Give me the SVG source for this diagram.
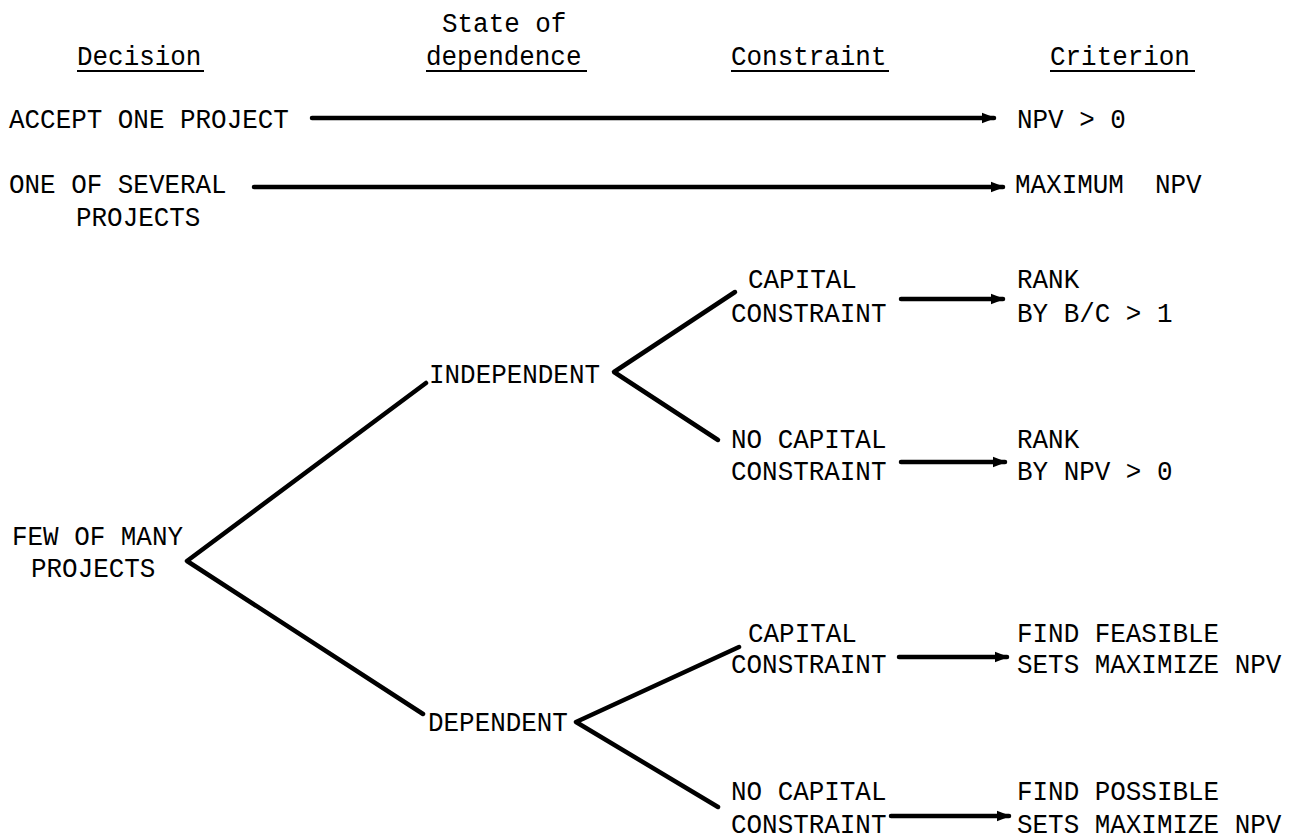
<svg xmlns="http://www.w3.org/2000/svg" width="1301" height="839" viewBox="0 0 1301 839">
<defs>
<marker id="ah" viewBox="0 0 10 10" refX="9" refY="5" markerWidth="3" markerHeight="3" orient="auto" markerUnits="strokeWidth">
<path d="M0,1 L10,5 L0,9 Z" fill="#000"/>
</marker>
<style>
text{font-family:"Liberation Mono","DejaVu Sans Mono",monospace;font-size:27px;fill:#000;transform-box:fill-box;transform-origin:0 0;transform:scaleX(0.96)}
.c{stroke:#000;stroke-width:4.5;fill:none;stroke-linecap:round;stroke-linejoin:round}
.ul{stroke:#000;stroke-width:2}
</style>
</defs>
<rect width="1301" height="839" fill="#fff"/>
<g id="headers">
<text x="442" y="32">State of</text>
<text x="77" y="65">Decision</text>
<line class="ul" x1="77" y1="71" x2="204" y2="71"/>
<text x="426" y="65">dependence</text>
<line class="ul" x1="426" y1="71" x2="587" y2="71"/>
<text x="731" y="65">Constraint</text>
<line class="ul" x1="731" y1="71" x2="889" y2="71"/>
<text x="1050" y="65">Criterion</text>
<line class="ul" x1="1050" y1="71" x2="1195" y2="71"/>
</g>
<g id="n-accept"><text x="9" y="128">ACCEPT ONE PROJECT</text></g>
<g id="n-npv0"><text x="1017" y="128">NPV &gt; 0</text></g>
<g id="n-oneof"><text x="9" y="193">ONE OF SEVERAL</text><text x="76" y="226">PROJECTS</text></g>
<g id="n-maxnpv"><text x="1015" y="193">MAXIMUM&#160; NPV</text></g>
<g id="n-few"><text x="12" y="545">FEW OF MANY</text><text x="31" y="577">PROJECTS</text></g>
<g id="n-indep"><text x="429" y="383">INDEPENDENT</text></g>
<g id="n-dep"><text x="428" y="731">DEPENDENT</text></g>
<g id="n-cap1"><text x="748" y="288">CAPITAL</text><text x="731" y="322">CONSTRAINT</text></g>
<g id="n-nocap1"><text x="731" y="448">NO CAPITAL</text><text x="731" y="480">CONSTRAINT</text></g>
<g id="n-cap2"><text x="748" y="642">CAPITAL</text><text x="731" y="673">CONSTRAINT</text></g>
<g id="n-nocap2"><text x="731" y="800">NO CAPITAL</text><text x="731" y="833">CONSTRAINT</text></g>
<g id="n-rank1"><text x="1017" y="288">RANK</text><text x="1017" y="322">BY B/C &gt; 1</text></g>
<g id="n-rank2"><text x="1017" y="448">RANK</text><text x="1017" y="480">BY NPV &gt; 0</text></g>
<g id="n-feas"><text x="1017" y="642">FIND FEASIBLE</text><text x="1017" y="673">SETS MAXIMIZE NPV</text></g>
<g id="n-poss"><text x="1017" y="800">FIND POSSIBLE</text><text x="1017" y="833">SETS MAXIMIZE NPV</text></g>
<g id="connectors">
<line class="c" x1="312" y1="118" x2="994" y2="118" marker-end="url(#ah)"/>
<line class="c" x1="254" y1="187" x2="1003" y2="187" marker-end="url(#ah)"/>
<line class="c" x1="901" y1="299" x2="1003" y2="299" marker-end="url(#ah)"/>
<line class="c" x1="901" y1="462" x2="1005" y2="462" marker-end="url(#ah)"/>
<line class="c" x1="899" y1="657" x2="1007" y2="657" marker-end="url(#ah)"/>
<line class="c" x1="891" y1="816" x2="1009" y2="816" marker-end="url(#ah)"/>
<polyline class="c" points="426,383 187,561 423,714"/>
<polyline class="c" points="735,292 614,372 718,440"/>
<polyline class="c" points="739,647 576,722 718,807"/>
</g>
</svg>
